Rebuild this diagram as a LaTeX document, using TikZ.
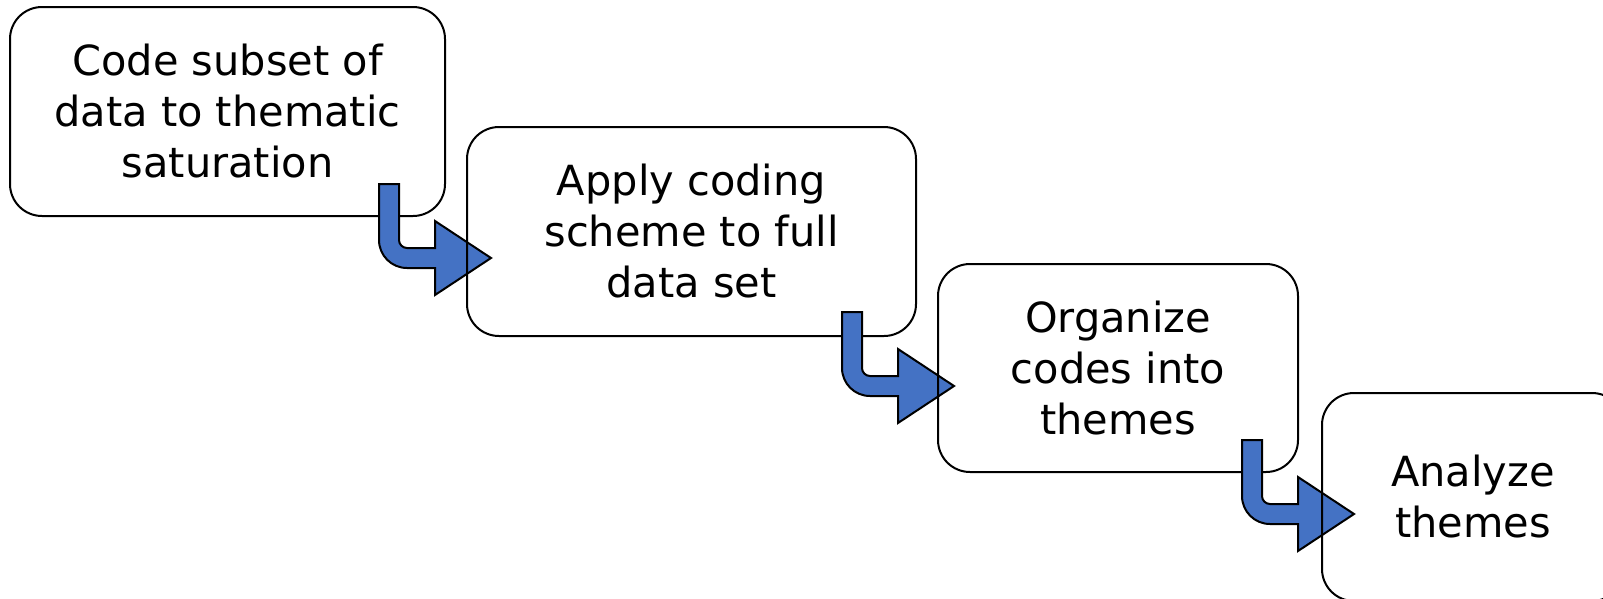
\documentclass[tikz,border=0pt]{standalone}
\usepackage{fontspec}
\setmainfont{DejaVu Sans}
\definecolor{stepblue}{RGB}{68,114,196}
\tikzset{
  stepbox/.style={draw=black, line width=2pt, rounded corners=32pt,
    inner sep=0pt, align=center,
    font=\fontsize{41.5}{51}\selectfont},
  arrowbody/.style={draw=black, fill=stepblue, line width=2pt, line join=miter},
  % bent block arrow: shaft drops from the origin, turns right, ends in a head
  bendarrow/.pic={
    \draw[arrowbody] (0,0) -- (20,0) -- (20,56)
      .. controls (20,60.4) and (23.6,64) .. (28,64)
      -- (56,64) -- (56,37) -- (112,74) -- (56,111) -- (56,84) -- (28,84)
      .. controls (12.5,84) and (0,71.5) .. (0,56) -- cycle;
  }
}
\begin{document}
\begin{tikzpicture}[x=1pt, y=-1pt]
  \useasboundingbox (0,0) rectangle (1603,598);
  \clip (0,0) rectangle (1603,598);

  \node[stepbox, minimum width=435pt, minimum height=209pt] (b1) at (227.5,111.5)
    {Code subset of\\data to thematic\\saturation};
  \coordinate (a1) at (379,184);
  \pic (arr1) at (a1) {bendarrow};

  \node[stepbox, minimum width=449pt, minimum height=209pt] (b2) at (691.5,231.5)
    {Apply coding\\scheme to full\\data set};
  \coordinate (a2) at (842,312);
  \pic (arr2) at (a2) {bendarrow};

  \node[stepbox, minimum width=360pt, minimum height=208pt] (b3) at (1118,368)
    {Organize\\codes into\\themes};
  \coordinate (a3) at (1242,440);
  \pic (arr3) at (a3) {bendarrow};

  \node[stepbox, minimum width=302pt, minimum height=208pt] (b4) at (1473,497)
    {Analyze\\themes};
\end{tikzpicture}
\end{document}
